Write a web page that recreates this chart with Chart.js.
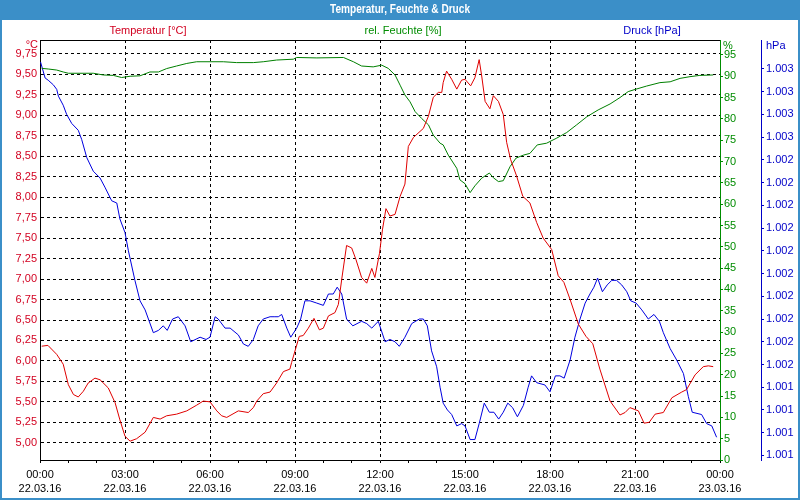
<!DOCTYPE html>
<html>
<head>
<meta charset="utf-8">
<script src="https://cdn.jsdelivr.net/npm/chart.js@4.4.0/dist/chart.umd.min.js"></script>
<style>
  html, body { margin: 0; padding: 0; background: #fff; }
  #wrap { width: 800px; height: 500px; }
</style>
</head>
<body>
<div id="wrap"><canvas id="chart" width="800" height="500"></canvas></div>
<script>
// hours since 22.03.16 00:00
const tempHours = [0.06,0.28,0.59,0.82,1.00,1.18,1.35,1.53,1.70,1.94,2.12,2.41,2.65,2.82,3.00,3.18,3.41,3.71,4.00,4.24,4.47,4.82,5.18,5.53,5.76,6.00,6.24,6.41,6.59,7.00,7.35,7.53,7.65,7.88,8.12,8.35,8.59,8.82,8.88,9.15,9.29,9.47,9.67,9.86,10.00,10.18,10.41,10.53,10.65,10.82,11.00,11.15,11.35,11.53,11.71,11.82,11.98,12.09,12.21,12.35,12.53,12.71,12.88,13.00,13.18,13.53,13.71,13.88,14.06,14.18,14.23,14.35,14.53,14.71,14.88,15.00,15.20,15.35,15.50,15.59,15.71,15.88,16.00,16.18,16.35,16.47,16.61,16.82,17.04,17.29,17.53,17.76,18.06,18.29,18.49,18.71,19.00,19.27,19.51,19.76,20.12,20.47,20.65,20.82,21.12,21.32,21.50,21.71,22.00,22.30,22.65,22.82,23.12,23.41,23.59,23.76];
const tempValues = [6.18,6.19,6.08,5.96,5.71,5.59,5.56,5.63,5.73,5.79,5.77,5.67,5.49,5.28,5.08,5.02,5.05,5.13,5.31,5.29,5.33,5.35,5.39,5.46,5.51,5.50,5.39,5.33,5.31,5.39,5.37,5.43,5.51,5.60,5.62,5.73,5.87,5.90,5.98,6.30,6.31,6.40,6.52,6.38,6.40,6.55,6.59,6.69,7.00,7.41,7.38,7.24,7.02,6.95,7.13,7.02,7.31,7.61,7.86,7.77,7.79,8.01,8.16,8.62,8.73,8.84,8.99,9.22,9.28,9.28,9.40,9.54,9.44,9.32,9.43,9.44,9.36,9.46,9.68,9.48,9.17,9.08,9.24,9.17,9.01,8.67,8.46,8.26,8.01,7.93,7.69,7.50,7.36,7.04,6.96,6.75,6.45,6.30,6.21,5.90,5.51,5.34,5.37,5.43,5.39,5.24,5.25,5.35,5.37,5.55,5.62,5.65,5.83,5.93,5.94,5.93];

const humHours = [0.06,0.29,0.59,0.82,1.00,1.88,2.23,2.59,2.88,3.18,3.53,3.88,4.18,4.47,4.82,5.18,5.53,6.00,6.47,6.94,7.53,7.88,8.35,8.94,9.06,9.77,10.71,11.06,11.35,11.76,12.06,12.29,12.53,12.71,12.88,13.06,13.24,13.47,13.71,13.88,14.12,14.23,14.41,14.71,14.82,15.00,15.18,15.35,15.59,15.86,16.00,16.18,16.35,16.59,16.80,17.06,17.29,17.55,17.88,18.24,18.59,18.94,19.30,19.70,20.12,20.47,20.76,21.00,21.41,21.88,22.24,22.59,22.94,23.29,23.76];
const humValues = [91.85,91.7,91.45,91.0,90.7,90.7,90.3,90.2,89.7,90.0,90.1,91.0,91.0,91.8,92.4,93.0,93.4,93.4,93.4,93.2,93.2,93.4,93.8,94.0,94.4,94.3,94.4,93.4,92.4,92.2,92.6,91.85,90.3,87.9,85.6,84.0,81.7,80.1,78.6,76.2,74.3,73.9,71.5,68.4,65.7,64.8,62.7,64.3,66.1,67.3,66.2,65.3,65.5,68.8,70.8,71.5,71.9,73.9,74.3,75.5,76.8,78.6,80.5,82.1,83.5,85.0,86.4,86.9,87.7,88.5,88.7,89.5,89.9,90.2,90.3];

const presHours = [0.02,0.18,0.29,0.47,0.59,0.65,0.82,0.94,1.12,1.35,1.47,1.65,1.88,2.12,2.29,2.53,2.71,2.82,3.00,3.12,3.35,3.53,3.71,4.00,4.18,4.35,4.49,4.68,4.88,5.12,5.32,5.65,5.86,6.00,6.18,6.29,6.53,6.71,7.00,7.18,7.35,7.53,7.70,7.88,8.12,8.29,8.41,8.53,8.71,8.85,9.06,9.20,9.35,9.53,9.77,10.00,10.18,10.35,10.49,10.65,10.82,11.04,11.35,11.53,11.71,11.94,12.18,12.35,12.53,12.68,12.88,13.12,13.39,13.53,13.67,13.82,14.00,14.12,14.23,14.38,14.53,14.71,14.88,15.00,15.18,15.35,15.50,15.68,15.86,16.02,16.19,16.35,16.51,16.68,16.85,17.06,17.23,17.35,17.53,17.82,18.00,18.19,18.35,18.50,18.71,18.88,19.06,19.24,19.41,19.55,19.68,19.85,20.02,20.18,20.35,20.53,20.71,20.85,21.04,21.24,21.47,21.67,21.86,22.00,22.24,22.47,22.71,22.88,23.02,23.35,23.53,23.71,23.88];
const presValues = [1002.83,1002.76,1002.75,1002.73,1002.71,1002.68,1002.64,1002.60,1002.56,1002.53,1002.49,1002.41,1002.35,1002.32,1002.28,1002.22,1002.21,1002.14,1002.08,1002.00,1001.87,1001.78,1001.74,1001.64,1001.65,1001.67,1001.65,1001.70,1001.71,1001.67,1001.60,1001.62,1001.61,1001.62,1001.71,1001.70,1001.66,1001.66,1001.63,1001.59,1001.58,1001.61,1001.67,1001.70,1001.71,1001.71,1001.71,1001.72,1001.66,1001.62,1001.66,1001.70,1001.78,1001.78,1001.77,1001.76,1001.81,1001.81,1001.84,1001.81,1001.70,1001.67,1001.69,1001.68,1001.66,1001.69,1001.60,1001.61,1001.60,1001.58,1001.62,1001.68,1001.70,1001.70,1001.67,1001.56,1001.49,1001.40,1001.33,1001.30,1001.28,1001.23,1001.24,1001.23,1001.17,1001.17,1001.24,1001.33,1001.29,1001.29,1001.26,1001.29,1001.33,1001.31,1001.27,1001.32,1001.40,1001.45,1001.42,1001.41,1001.38,1001.45,1001.45,1001.44,1001.52,1001.62,1001.70,1001.77,1001.81,1001.84,1001.88,1001.82,1001.85,1001.87,1001.87,1001.85,1001.82,1001.78,1001.77,1001.74,1001.70,1001.72,1001.69,1001.64,1001.57,1001.52,1001.46,1001.36,1001.29,1001.28,1001.24,1001.23,1001.18];

// tick labels
const hourTicks = [0,1,2,3,4,5,6,7,8,9,10,11,12,13,14,15,16,17,18,19,20,21,22,23,24];
const timeLabels = ["00:00","03:00","06:00","09:00","12:00","15:00","18:00","21:00","00:00"];
const dateLabels = ["22.03.16","22.03.16","22.03.16","22.03.16","22.03.16","22.03.16","22.03.16","22.03.16","23.03.16"];
const tempTicks = [5.00,5.25,5.50,5.75,6.00,6.25,6.50,6.75,7.00,7.25,7.50,7.75,8.00,8.25,8.50,8.75,9.00,9.25,9.50,9.75];
const humTicks = [0,5,10,15,20,25,30,35,40,45,50,55,60,65,70,75,80,85,90,95];
const presTicks = [1001.1,1001.2,1001.3,1001.4,1001.5,1001.6,1001.7,1001.8,1001.9,1002.0,1002.1,1002.2,1002.3,1002.4,1002.5,1002.6,1002.7,1002.8];

const RED = "#d20020", RED_LINE = "#e00000";
const GREEN = "#008c00", GREEN_LINE = "#008000";
const BLUE = "#0000c8", BLUE_LINE = "#0000e0";
const FRAME = "#3b8fc8";
const FONT = '"Liberation Sans", Arial, sans-serif';

Chart.defaults.font.family = FONT;
Chart.defaults.font.size = 11;

const toPoints = (xs, ys) => xs.map((x, i) => ({ x: x, y: ys[i] }));
const setTicks = (values) => (scale) => { scale.ticks = values.map(v => ({ value: v })); };

// title bar, frame, series captions and units
const framePlugin = {
  id: "frame",
  beforeDraw(chart) {
    const ctx = chart.ctx;
    ctx.save();
    ctx.fillStyle = "#fff";
    ctx.fillRect(0, 0, chart.width, chart.height);
    ctx.restore();
  },
  afterDraw(chart) {
    const ctx = chart.ctx;
    const a = chart.chartArea;
    ctx.save();
    // top line of plot
    ctx.strokeStyle = "#000";
    ctx.lineWidth = 1;
    ctx.beginPath();
    ctx.moveTo(a.left, a.top + 0.5);
    ctx.lineTo(a.right, a.top + 0.5);
    ctx.stroke();
    // frame
    ctx.fillStyle = FRAME;
    ctx.fillRect(0, 0, chart.width, 20);
    ctx.fillRect(0, 0, 2, chart.height);
    ctx.fillRect(chart.width - 2, 0, 2, chart.height);
    ctx.fillRect(0, chart.height - 2, chart.width, 2);
    ctx.fillStyle = "#fff";
    ctx.font = "bold 12px " + FONT;
    ctx.textAlign = "center";
    ctx.textBaseline = "middle";
    ctx.fillText("Temperatur, Feuchte & Druck", 400, 10, 140);
    // captions
    ctx.font = "11px " + FONT;
    ctx.fillStyle = RED;
    ctx.fillText("Temperatur [°C]", 148, 31);
    ctx.fillStyle = GREEN;
    ctx.fillText("rel. Feuchte [%]", 403, 31);
    ctx.fillStyle = BLUE;
    ctx.fillText("Druck [hPa]", 652, 31);
    // units
    ctx.textAlign = "right";
    ctx.fillStyle = RED;
    ctx.fillText("°C", 38, 45);
    ctx.textAlign = "left";
    ctx.fillStyle = GREEN;
    ctx.fillText("%", 723, 46);
    ctx.fillStyle = BLUE;
    ctx.fillText("hPa", 766, 46);
    ctx.restore();
  }
};

new Chart(document.getElementById("chart"), {
  type: "line",
  data: {
    datasets: [
      { label: "Temperatur [°C]", data: toPoints(tempHours, tempValues), yAxisID: "yT",
        borderColor: RED_LINE, borderWidth: 1, pointRadius: 0, tension: 0 },
      { label: "rel. Feuchte [%]", data: toPoints(humHours, humValues), yAxisID: "yH",
        borderColor: GREEN_LINE, borderWidth: 1, pointRadius: 0, tension: 0 },
      { label: "Druck [hPa]", data: toPoints(presHours, presValues), yAxisID: "yP",
        borderColor: BLUE_LINE, borderWidth: 1, pointRadius: 0, tension: 0 }
    ]
  },
  options: {
    responsive: false,
    animation: false,
    events: [],
    layout: { padding: { top: 40, left: 0, right: 0, bottom: 0 } },
    plugins: { legend: { display: false }, tooltip: { enabled: false }, title: { display: false } },
    scales: {
      x: {
        type: "linear", position: "bottom", min: 0, max: 24,
        afterBuildTicks: setTicks(hourTicks),
        afterFit: (s) => { s.height = 40; },
        border: { color: "#000", width: 1, dash: [3, 3] },
        grid: {
          color: (c) => (c.tick && c.tick.value % 3 === 0) ? "#000" : "rgba(0,0,0,0)",
          tickColor: "#000", tickLength: 3, lineWidth: 1
        },
        ticks: {
          autoSkip: false, maxRotation: 0, color: "#000", padding: 4,
          font: { size: 11, lineHeight: 1.36 },
          callback: (v) => v % 3 === 0 ? [timeLabels[v / 3], dateLabels[v / 3]] : ""
        }
      },
      yT: {
        type: "linear", position: "left", min: 4.79, max: 9.92,
        afterBuildTicks: setTicks(tempTicks),
        afterFit: (s) => { s.width = 40; },
        border: { color: "#000", width: 1, dash: [3, 3] },
        grid: { color: "#000", drawTicks: false, lineWidth: 1 },
        ticks: { color: RED, padding: 3, callback: (v) => v.toFixed(2).replace(".", ",") }
      },
      yH: {
        type: "linear", position: "right", weight: 1, min: 0, max: 98.5,
        afterBuildTicks: setTicks(humTicks),
        afterFit: (s) => { s.width = 41; },
        border: { color: GREEN, width: 1 },
        grid: { drawOnChartArea: false, tickColor: GREEN, tickLength: 3 },
        ticks: { color: GREEN, padding: 1, callback: (v) => String(v) }
      },
      yP: {
        type: "linear", position: "right", weight: 2, min: 1001.08, max: 1002.927,
        afterBuildTicks: setTicks(presTicks),
        afterFit: (s) => { s.width = 39; },
        border: { color: BLUE, width: 1 },
        grid: { drawOnChartArea: false, tickColor: BLUE, tickLength: 3 },
        ticks: { color: BLUE, padding: 2, callback: (v) => (Math.round(v) / 1000).toFixed(3) }
      }
    }
  },
  plugins: [framePlugin]
});
</script>
</body>
</html>
